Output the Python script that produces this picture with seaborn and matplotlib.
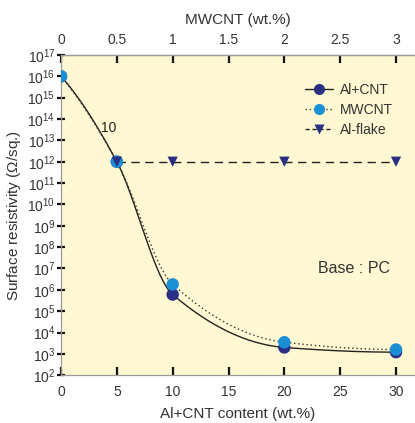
import numpy as np
import pandas as pd
import matplotlib
matplotlib.use("Agg")
import matplotlib.pyplot as plt
import seaborn as sns
from matplotlib.lines import Line2D
from matplotlib.ticker import LogLocator, LogFormatterSciNotation, NullLocator, FixedLocator, FixedFormatter

# ---- data ----
alcnt_x = [0, 5, 10, 20, 30]
alcnt_y = [1e16, 1e12, 6e5, 2e3, 1.2e3]
mwcnt_wt = [0, 0.5, 1, 2, 3]          # top axis (MWCNT wt.%)
mwcnt_y = [1e16, 1e12, 1.8e6, 3.5e3, 1.6e3]
flake_x = [5, 10, 20, 30]
flake_y = [1e12, 1e12, 1e12, 1e12]
top_ticks = [0, 0.5, 1, 1.5, 2, 2.5, 3]
top_labels = ["0", "0.5", "1", "1.5", "2", "2.5", "3"]
bottom_ticks = [0, 5, 10, 15, 20, 25, 30]

sns.set_theme(style="ticks")
plt.rcParams["font.family"] = ["Liberation Sans", "DejaVu Sans"]
plt.rcParams["mathtext.fontset"] = "custom"
plt.rcParams["mathtext.rm"] = "Liberation Sans"
plt.rcParams["mathtext.it"] = "Liberation Sans:italic"

NAVY = "#2a2f86"
LBLUE = "#1a8fd6"
BG = "#fff8d2"


def pchip(x, y, xs):
    x = np.asarray(x, float); y = np.asarray(y, float)
    h = np.diff(x); d = np.diff(y) / h
    n = len(x); m = np.zeros(n)
    for k in range(1, n - 1):
        if d[k - 1] * d[k] > 0:
            w1 = 2 * h[k] + h[k - 1]; w2 = h[k] + 2 * h[k - 1]
            m[k] = (w1 + w2) / (w1 / d[k - 1] + w2 / d[k])
    def end(h0, h1, d0, d1):
        s = ((2 * h0 + h1) * d0 - h0 * d1) / (h0 + h1)
        if np.sign(s) != np.sign(d0):
            s = 0.0
        elif np.sign(d0) != np.sign(d1) and abs(s) > abs(3 * d0):
            s = 3 * d0
        return s
    m[0] = end(h[0], h[1], d[0], d[1])
    m[-1] = end(h[-1], h[-2], d[-1], d[-2])
    out = np.empty_like(xs, dtype=float)
    idx = np.clip(np.searchsorted(x, xs) - 1, 0, n - 2)
    for i, xv in enumerate(xs):
        k = idx[i]; t = (xv - x[k]) / h[k]
        h00 = 2 * t**3 - 3 * t**2 + 1; h10 = t**3 - 2 * t**2 + t
        h01 = -2 * t**3 + 3 * t**2; h11 = t**3 - t**2
        out[i] = h00 * y[k] + h10 * h[k] * m[k] + h01 * y[k + 1] + h11 * h[k] * m[k + 1]
    return out


fig = plt.figure(figsize=(4.15, 4.23), dpi=100)
ax = fig.add_axes([0.147, 0.113, 0.853, 0.757])
ax.set_facecolor(BG)

mw_x = [v * 10 for v in mwcnt_wt]

# smooth fitted curves (log space) through the measured points
xs = np.linspace(0, 30, 400)
ax.plot(xs, 10 ** pchip(alcnt_x, np.log10(alcnt_y), xs), color="#222222", lw=1.0, zorder=2)
ax.plot(xs, 10 ** pchip(mw_x, np.log10(mwcnt_y), xs), color="#333333", lw=1.0,
        linestyle=(0, (1, 2)), zorder=2)
ax.plot(flake_x, flake_y, color="#222222", lw=1.0, linestyle=(0, (6, 4)), zorder=2)

df1 = pd.DataFrame({"x": alcnt_x, "y": alcnt_y})
df2 = pd.DataFrame({"x": mw_x, "y": mwcnt_y})
df3 = pd.DataFrame({"x": flake_x, "y": flake_y})
sns.scatterplot(data=df1, x="x", y="y", ax=ax, color=NAVY, s=80, marker="o",
                edgecolor="none", zorder=3)
sns.scatterplot(data=df2, x="x", y="y", ax=ax, color=LBLUE, s=80, marker="o",
                edgecolor="none", zorder=4)
sns.scatterplot(data=df3, x="x", y="y", ax=ax, color=NAVY, s=55, marker="v",
                edgecolor="none", zorder=5)

ax.set_yscale("log")
ax.set_xlim(0, 31.7)
ax.set_ylim(1e2, 1e17)
ax.yaxis.set_major_locator(LogLocator(base=10, numticks=30))
ax.yaxis.set_major_formatter(LogFormatterSciNotation())
ax.yaxis.set_minor_locator(NullLocator())
ax.xaxis.set_major_locator(FixedLocator(bottom_ticks))

ax.tick_params(axis="x", direction="in", length=6, width=1.6, color="#111111",
               labelsize=10, pad=7, labelcolor="#333333")
ax.tick_params(axis="y", direction="inout", length=6, width=1.6, color="#111111",
               labelsize=10, pad=1, labelcolor="#333333")

for side in ["left", "bottom", "top"]:
    ax.spines[side].set_color("#9a9a9a")
    ax.spines[side].set_linewidth(0.9)
ax.spines["right"].set_visible(False)

sec = ax.secondary_xaxis("top", functions=(lambda v: v / 10, lambda v: v * 10))
sec.xaxis.set_major_locator(FixedLocator(top_ticks))
sec.xaxis.set_major_formatter(FixedFormatter(top_labels))
sec.tick_params(direction="in", length=6, width=1.6, color="#111111", labelsize=10,
                pad=6, labelcolor="#333333")
sec.spines["top"].set_color("#9a9a9a")
sec.spines["top"].set_linewidth(0.9)
sec.set_xlabel("MWCNT (wt.%)", fontsize=11, color="#333333", labelpad=6)

ax.set_xlabel("Al+CNT content (wt.%)", fontsize=11, color="#333333", labelpad=6)
ax.set_ylabel("Surface resistivity ($\\mathit{\\Omega}$/sq.)", fontsize=11,
              color="#333333", labelpad=3)

ax.text(4.3, 10 ** 13.6, "10", fontsize=10, color="#222222", ha="center", va="center")
ax.text(26.2, 1e7, "Base : PC", fontsize=11.5, color="#333333", ha="center", va="center")

handles = [
    Line2D([], [], color="#222222", lw=1.0, marker="o", markersize=8,
           markerfacecolor=NAVY, markeredgecolor="none"),
    Line2D([], [], color="#333333", lw=1.0, linestyle=(0, (1, 2)), marker="o",
           markersize=8, markerfacecolor=LBLUE, markeredgecolor="none"),
    Line2D([], [], color="#222222", lw=1.0, linestyle=(0, (3, 2)), marker="v",
           markersize=7, markerfacecolor=NAVY, markeredgecolor="none"),
]
leg = ax.legend(handles, ["Al+CNT", "MWCNT", "Al-flake"], loc="upper left",
                bbox_to_anchor=(0.655, 0.952), frameon=False, fontsize=10,
                handlelength=2.0, handletextpad=0.5, labelspacing=0.42)
for t in leg.get_texts():
    t.set_color("#333333")

fig.savefig("out.png", dpi=100, facecolor="white")
